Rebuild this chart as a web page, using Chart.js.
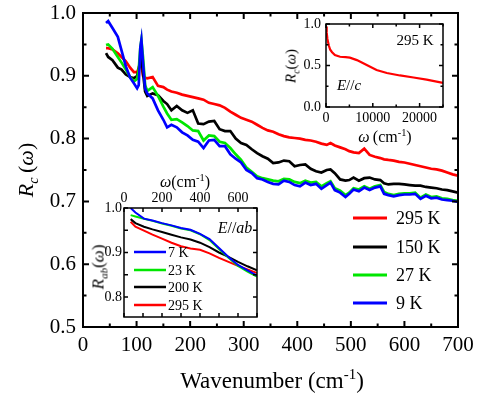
<!DOCTYPE html>
<html>
<head>
<meta charset="utf-8">
<script src="https://cdn.jsdelivr.net/npm/chart.js@4.4.0/dist/chart.umd.min.js"></script>
<style>
html, body { margin: 0; padding: 0; background: #fff; }
#wrap { position: relative; width: 478px; height: 396px; overflow: hidden;
        font-family: "Liberation Serif", serif; color: #000; }
#wrap canvas { position: absolute; left: 0; top: 0; }
.lbl { position: absolute; white-space: nowrap; line-height: 1; transform: translate(-50%, -50%); }
.rot { transform: translate(-50%, -50%) rotate(-90deg); }
sub, sup { font-size: 65%; line-height: 0; }
</style>
</head>
<body>
<div id="wrap">
  <canvas id="mainChart" width="478" height="396"></canvas>
  <canvas id="insetC" width="478" height="396"></canvas>
  <canvas id="insetAB" width="478" height="396"></canvas>

  <div class="lbl" style="left:272px;top:380px;font-size:23px;">Wavenumber (cm<sup>-1</sup>)</div>
  <div class="lbl rot" style="left:26px;top:170px;font-size:22px;"><i>R</i><sub><i>c</i></sub>&thinsp;(<i>ω</i>)</div>

  <div class="lbl rot" style="left:291px;top:66px;font-size:15px;"><i>R</i><sub><i>c</i></sub>(<i>ω</i>)</div>
  <div class="lbl" style="left:385px;top:137px;font-size:16px;"><i>ω</i>&thinsp;(cm<sup>-1</sup>)</div>
  <div class="lbl" style="left:415px;top:40px;font-size:15px;">295 K</div>
  <div class="lbl" style="left:349px;top:85px;font-size:15px;"><i>E</i>//<i>c</i></div>

  <div class="lbl" style="left:185px;top:182px;font-size:16px;"><i>ω</i>(cm<sup>-1</sup>)</div>
  <div class="lbl rot" style="left:98px;top:267px;font-size:17px;"><i>R</i><sub><i>ab</i></sub>(<i>ω</i>)</div>
  <div class="lbl" style="left:235px;top:228px;font-size:16px;"><i>E</i>//<i>ab</i></div>
</div>

<script>
// Main panel: R_c(omega) vs wavenumber, common wavenumber grid (cm-1)
const wave = [
  43, 47, 55, 65, 72, 80, 88, 95, 101, 104, 107, 109, 112, 116, 120,
  130, 140, 150, 157, 165, 175, 185, 195, 205, 215, 225, 235, 245, 255, 265,
  275, 285, 295, 305, 315, 325, 335, 345, 355, 365, 375, 385, 395, 405, 415,
  425, 435, 445, 455, 462, 470, 480, 490, 497, 505, 515, 525, 535, 545, 555,
  562, 570, 580, 590, 600, 610, 620, 630, 640, 650, 660, 670, 680, 690, 700
];
const r9K = [
  0.984, 0.987, 0.976, 0.962, 0.940, 0.915, 0.897, 0.888, 0.880, 0.885, 0.945, 0.957, 0.920, 0.880, 0.872,
  0.864, 0.845, 0.830, 0.818, 0.822, 0.818, 0.810, 0.805, 0.798, 0.795, 0.785, 0.797, 0.798, 0.788, 0.788,
  0.775, 0.768, 0.762, 0.750, 0.745, 0.737, 0.735, 0.731, 0.728, 0.727, 0.733, 0.731, 0.726, 0.724, 0.730,
  0.726, 0.728, 0.720, 0.726, 0.730, 0.718, 0.714, 0.707, 0.712, 0.719, 0.716, 0.722, 0.718, 0.722, 0.724,
  0.712, 0.710, 0.708, 0.710, 0.711, 0.711, 0.712, 0.704, 0.709, 0.705, 0.706, 0.703, 0.702, 0.701, 0.699
];
const r27K = [
  0.949, 0.950, 0.943, 0.930, 0.921, 0.910, 0.898, 0.891, 0.895, 0.910, 0.945, 0.957, 0.930, 0.885, 0.876,
  0.882, 0.868, 0.851, 0.840, 0.830, 0.831, 0.826, 0.820, 0.813, 0.812, 0.797, 0.805, 0.804, 0.795, 0.793,
  0.785, 0.775, 0.766, 0.754, 0.747, 0.740, 0.737, 0.735, 0.733, 0.732, 0.736, 0.735, 0.731, 0.729, 0.733,
  0.730, 0.731, 0.724, 0.729, 0.732, 0.721, 0.717, 0.710, 0.714, 0.721, 0.719, 0.724, 0.720, 0.724, 0.726,
  0.715, 0.712, 0.710, 0.712, 0.713, 0.713, 0.714, 0.706, 0.711, 0.707, 0.708, 0.705, 0.704, 0.702, 0.701
];
const r150K = [
  0.936, 0.930, 0.925, 0.913, 0.910, 0.902, 0.898, 0.896, 0.900, 0.910, 0.928, 0.930, 0.905, 0.875, 0.868,
  0.872, 0.869, 0.860, 0.855, 0.845, 0.852, 0.845, 0.841, 0.845, 0.824, 0.823, 0.827, 0.828, 0.815, 0.812,
  0.812, 0.800, 0.793, 0.790, 0.783, 0.777, 0.772, 0.768, 0.761, 0.762, 0.765, 0.764, 0.756, 0.758, 0.759,
  0.752, 0.748, 0.746, 0.750, 0.751, 0.745, 0.735, 0.733, 0.734, 0.738, 0.733, 0.737, 0.738, 0.735, 0.734,
  0.729, 0.727, 0.728, 0.728, 0.727, 0.726, 0.725, 0.725, 0.723, 0.722, 0.721, 0.719, 0.718, 0.716, 0.714
];
const r295K = [
  0.944, 0.944, 0.942, 0.936, 0.930, 0.923, 0.913, 0.906, 0.906, 0.912, 0.920, 0.918, 0.900, 0.897, 0.896,
  0.898, 0.884, 0.882, 0.878, 0.875, 0.873, 0.870, 0.868, 0.866, 0.864, 0.862, 0.857, 0.855, 0.853, 0.849,
  0.843, 0.838, 0.833, 0.830, 0.827, 0.822, 0.817, 0.813, 0.811, 0.807, 0.804, 0.802, 0.801, 0.800, 0.798,
  0.797, 0.795, 0.792, 0.790, 0.793, 0.789, 0.786, 0.783, 0.780, 0.778, 0.777, 0.784, 0.774, 0.771, 0.769,
  0.767, 0.766, 0.765, 0.763, 0.762, 0.760, 0.758, 0.756, 0.754, 0.752, 0.751, 0.749, 0.746, 0.743, 0.741
];
const mainLabels = ['9 K', '27 K', '150 K', '295 K'];
const xTicksMain = [0, 100, 200, 300, 400, 500, 600, 700];
const yTicksMain = [0.5, 0.6, 0.7, 0.8, 0.9, 1.0];

// Upper inset: room temperature R_c over the wide range
const cWave = [0, 150, 300, 600, 900, 1300, 1900, 3000, 4200, 5100, 6600, 8700, 10800, 13000, 15800, 18700, 21500, 25000];
const cR295K = [0.97, 0.90, 0.82, 0.74, 0.69, 0.66, 0.625, 0.605, 0.60, 0.595, 0.565, 0.505, 0.445, 0.41, 0.38, 0.355, 0.33, 0.29];
const xTicksC = [0, 10000, 20000];
const yTicksC = [0, 0.5, 1.0];

// Lower inset: in-plane R_ab
const abWave = [35, 60, 105, 150, 200, 250, 300, 350, 400, 450, 500, 550, 600, 650, 700];
const ab7K   = [1.000, 0.990, 0.976, 0.972, 0.966, 0.961, 0.955, 0.951, 0.942, 0.930, 0.910, 0.890, 0.872, 0.860, 0.848];
const ab23K  = [0.984, 0.981, 0.976, 0.971, 0.965, 0.960, 0.954, 0.950, 0.941, 0.928, 0.908, 0.888, 0.870, 0.857, 0.846];
const ab200K = [0.975, 0.966, 0.958, 0.952, 0.946, 0.940, 0.934, 0.929, 0.922, 0.912, 0.900, 0.890, 0.879, 0.869, 0.860];
const ab295K = [0.969, 0.958, 0.949, 0.940, 0.931, 0.922, 0.914, 0.909, 0.906, 0.898, 0.888, 0.879, 0.870, 0.862, 0.854];
const abLabels = ['7 K', '23 K', '200 K', '295 K'];
const xTicksAB = [0, 200, 400, 600];
const yTicksAB = [0.8, 0.9, 1.0];

const RED = '#ff0000', BLACK = '#000000', GREEN = '#00e600', BLUE = '#0000ff';
const SERIF = '"Liberation Serif", serif';

Chart.defaults.font.family = SERIF;
Chart.defaults.color = '#000';

function pairs(xs, ys) {
    return xs.map((x, i) => ({ x: x, y: ys[i] }));
}

function line(label, xs, ys, color, width) {
    return {
        label: label,
        data: pairs(xs, ys),
        borderColor: color,
        backgroundColor: color,
        borderWidth: width,
        pointRadius: 0,
        tension: 0,
        fill: false
    };
}

// closed box with inward ticks on all four sides
const framePlugin = {
    id: 'frame',
    beforeDatasetsDraw(chart, args, o) {
        if (!o.fill) return;
        const a = chart.chartArea;
        chart.ctx.save();
        chart.ctx.fillStyle = '#fff';
        chart.ctx.fillRect(a.left, a.top, a.right - a.left, a.bottom - a.top);
        chart.ctx.restore();
    },
    afterDatasetsDraw(chart, args, o) {
        const ctx = chart.ctx, a = chart.chartArea;
        const x = chart.scales.x, y = chart.scales.y;
        const isMajor = (v, step) => Math.abs(v / step - Math.round(v / step)) < 1e-6;
        ctx.save();
        ctx.strokeStyle = '#000';
        ctx.lineWidth = o.lw;
        ctx.strokeRect(a.left, a.top, a.right - a.left, a.bottom - a.top);
        ctx.beginPath();
        let start = Math.ceil(x.min / o.xMinor - 1e-9);
        for (let i = start; i * o.xMinor <= x.max + 1e-9; i++) {
            const v = i * o.xMinor;
            const p = x.getPixelForValue(v);
            const len = isMajor(v, o.xMajor) ? o.major : o.minor;
            ctx.moveTo(p, a.bottom); ctx.lineTo(p, a.bottom - len);
            ctx.moveTo(p, a.top); ctx.lineTo(p, a.top + len);
        }
        start = Math.ceil(y.min / o.yMinor - 1e-9);
        for (let i = start; i * o.yMinor <= y.max + 1e-9; i++) {
            const v = i * o.yMinor;
            const p = y.getPixelForValue(v);
            const len = isMajor(v, o.yMajor) ? o.major : o.minor;
            ctx.moveTo(a.left, p); ctx.lineTo(a.left + len, p);
            ctx.moveTo(a.right, p); ctx.lineTo(a.right - len, p);
        }
        ctx.stroke();
        ctx.restore();
    }
};

// legend drawn at a fixed spot inside the plot
const keyPlugin = {
    id: 'key',
    afterDraw(chart, args, o) {
        const ctx = chart.ctx;
        ctx.save();
        ctx.font = o.size + 'px ' + SERIF;
        ctx.textBaseline = 'middle';
        ctx.fillStyle = '#000';
        o.order.forEach((idx, row) => {
            const ds = chart.data.datasets[idx];
            const yy = o.rows[row];
            ctx.strokeStyle = ds.borderColor;
            ctx.lineWidth = o.lw;
            ctx.beginPath();
            ctx.moveTo(o.x1, yy);
            ctx.lineTo(o.x2, yy);
            ctx.stroke();
            ctx.fillText(ds.label, o.tx, yy + 1);
        });
        ctx.restore();
    }
};

function fixBox(w, h) {
    return function(s) {
        if (w !== null) s.width = w;
        if (h !== null) s.height = h;
        s.paddingLeft = 0; s.paddingRight = 0;
        s.paddingTop = 0; s.paddingBottom = 0;
    };
}

function axis(min, max, list, size, pad, fmt, fit, extra) {
    return Object.assign({
        type: 'linear', min: min, max: max,
        grid: { display: false, drawTicks: false },
        border: { display: false },
        afterBuildTicks: s => { s.ticks = list.map(v => ({ value: v })); },
        ticks: { padding: pad, maxRotation: 0, minRotation: 0, autoSkip: false,
                 font: { size: size, family: SERIF }, callback: fmt },
        afterFit: fit
    }, extra || {});
}

const plain = v => String(v);
const oneDec = v => v.toFixed(1);

// main chart
new Chart(document.getElementById('mainChart'), {
    type: 'line',
    data: {
        datasets: [
            line(mainLabels[0], wave, r9K, BLUE, 2.7),
            line(mainLabels[1], wave, r27K, GREEN, 2.7),
            line(mainLabels[2], wave, r150K, BLACK, 2.7),
            line(mainLabels[3], wave, r295K, RED, 2.7)
        ]
    },
    options: {
        responsive: false,
        animation: false,
        layout: { padding: { left: 0, top: 13, right: 20, bottom: 0 } },
        plugins: {
            legend: { display: false },
            tooltip: { enabled: false },
            frame: { lw: 2, xMajor: 100, xMinor: 50, yMajor: 0.1, yMinor: 0.05, major: 6, minor: 3.5 },
            key: { order: [3, 2, 1, 0], rows: [218, 247, 275, 303], x1: 353, x2: 387, tx: 396, size: 18, lw: 3 }
        },
        scales: {
            x: axis(0, 700, xTicksMain, 21, 6, plain, fixBox(null, 69)),
            y: axis(0.5, 1.0, yTicksMain, 21, 7, oneDec, fixBox(83, null))
        }
    },
    plugins: [framePlugin, keyPlugin]
});

// upper right inset
new Chart(document.getElementById('insetC'), {
    type: 'line',
    data: { datasets: [line('295 K', cWave, cR295K, RED, 2.2)] },
    options: {
        responsive: false,
        animation: false,
        layout: { padding: { left: 286, top: 24, right: 35, bottom: 259 } },
        plugins: {
            legend: { display: false },
            tooltip: { enabled: false },
            frame: { fill: true, lw: 1.5, xMajor: 10000, xMinor: 5000, yMajor: 0.5, yMinor: 0.25, major: 4, minor: 2.5 }
        },
        scales: {
            x: axis(0, 25000, xTicksC, 14, 3, plain, fixBox(null, 30)),
            y: axis(0, 1.0, yTicksC, 14, 5, oneDec, fixBox(40, null))
        }
    },
    plugins: [framePlugin]
});

// lower left inset
new Chart(document.getElementById('insetAB'), {
    type: 'line',
    data: {
        datasets: [
            line(abLabels[0], abWave, ab7K, BLUE, 2),
            line(abLabels[1], abWave, ab23K, GREEN, 2),
            line(abLabels[2], abWave, ab200K, BLACK, 2),
            line(abLabels[3], abWave, ab295K, RED, 2)
        ]
    },
    options: {
        responsive: false,
        animation: false,
        layout: { padding: { left: 94, top: 186, right: 221, bottom: 79 } },
        plugins: {
            legend: { display: false },
            tooltip: { enabled: false },
            frame: { fill: true, lw: 1.5, xMajor: 200, xMinor: 100, yMajor: 0.1, yMinor: 0.05, major: 4, minor: 4 },
            key: { order: [0, 1, 2, 3], rows: [252, 270, 287, 305], x1: 134, x2: 166, tx: 168, size: 14, lw: 2.5 }
        },
        scales: {
            x: axis(0, 700, xTicksAB, 14, 1, plain, fixBox(null, 22), { position: 'top' }),
            y: axis(0.755, 1.0, yTicksAB, 14, 2, oneDec, fixBox(30, null))
        }
    },
    plugins: [framePlugin, keyPlugin]
});
</script>
</body>
</html>
